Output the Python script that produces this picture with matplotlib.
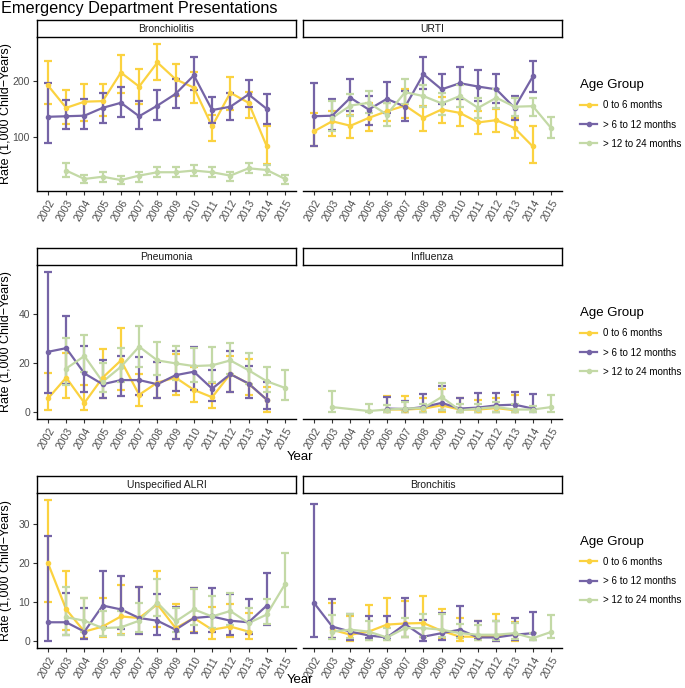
import numpy as np
import matplotlib

matplotlib.use("Agg")
import matplotlib.pyplot as plt
from matplotlib.lines import Line2D

plt.rcParams["font.family"] = ["Liberation Sans", "DejaVu Sans"]

nan = np.nan

YEARS = ["2002", "2003", "2004", "2005", "2006", "2007", "2008",
         "2009", "2010", "2011", "2012", "2013", "2014", "2015"]
AGE_GROUPS = ["0 to 6 months", "> 6 to 12 months", "> 12 to 24 months"]
COLORS = ["#FBD240", "#7564A6", "#C3D9A6"]

# --- Bronchiolitis
BRONCHIOLITIS_06 = [192, 152, 163, 164, 215, 190, 233, 203, 188, 119, 179, 161, 83, nan]
BRONCHIOLITIS_06_LO = [158, 124, 128, 137, 179, 158, 201, 173, 160, 93, 149, 134, 51, nan]
BRONCHIOLITIS_06_HI = [236, 183, 195, 195, 247, 221, 266, 230, 216, 140, 207, 180, 120, nan]
BRONCHIOLITIS_612 = [136, 137, 138, 152, 161, 137, 156, 177, 210, 148, 154, 176, 150, nan]
BRONCHIOLITIS_612_LO = [89, 114, 114, 125, 135, 114, 131, 151, 184, 125, 130, 154, 124, nan]
BRONCHIOLITIS_612_HI = [197, 166, 167, 178, 189, 164, 184, 204, 242, 172, 178, 202, 176, nan]
BRONCHIOLITIS_1224 = [nan, 40, 25, 29, 23, 31, 37, 37, 40, 37, 31, 44, 41, 25]
BRONCHIOLITIS_1224_LO = [nan, 28, 17, 20, 16, 20, 28, 28, 31, 28, 22, 35, 32, 16]
BRONCHIOLITIS_1224_HI = [nan, 54, 32, 37, 31, 38, 46, 46, 50, 46, 38, 53, 50, 32]

# --- URTI
URTI_06 = [110, 128, 120, 134, 146, 156, 134, 149, 143, 126, 130, 116, 83, nan]
URTI_06_LO = [84, 102, 98, 110, 128, 134, 111, 125, 119, 105, 108, 98, 53, nan]
URTI_06_HI = [142, 146, 140, 161, 161, 185, 156, 171, 167, 147, 150, 134, 119, nan]
URTI_612 = [137, 138, 170, 149, 168, 154, 212, 185, 196, 190, 185, 152, 208, nan]
URTI_612_LO = [84, 113, 146, 122, 143, 128, 185, 158, 168, 164, 160, 131, 180, nan]
URTI_612_HI = [197, 167, 203, 173, 198, 182, 242, 212, 225, 219, 212, 174, 236, nan]
URTI_1224 = [nan, 134, 156, 161, 140, 180, 173, 160, 173, 152, 170, 154, 155, 116]
URTI_1224_LO = [nan, 111, 137, 143, 120, 158, 154, 140, 154, 134, 152, 138, 138, 98]
URTI_1224_HI = [nan, 164, 176, 182, 161, 203, 192, 179, 192, 170, 185, 170, 170, 136]

# --- Pneumonia
PNEUMONIA_06 = [5.5, 14, 3.7, 14, 21, 7, 12, 14, 9, 6, 15.5, 11.5, 5, nan]
PNEUMONIA_06_LO = [0.7, 5.5, 0.7, 5.5, 9, 2.3, 5.5, 7, 4, 1.6, 8, 7, 0, nan]
PNEUMONIA_06_HI = [16, 24, 11, 25.5, 34, 15.5, 20.5, 23.5, 18.5, 12, 23, 21.5, 10, nan]
PNEUMONIA_612 = [24.5, 26, 15.7, 11.3, 13, 13, 11.3, 15, 16.4, 9.5, 15.4, 11.6, 5, nan]
PNEUMONIA_612_LO = [7.8, 11.6, 8, 5.5, 6.4, 6.8, 5.5, 8.5, 9, 4.5, 8.2, 5.9, 1.4, nan]
PNEUMONIA_612_HI = [57, 39, 27, 21, 23, 22.5, 20.5, 25, 26.6, 17.3, 25, 18.7, 12.3, nan]
PNEUMONIA_1224 = [nan, 17.7, 22.8, 12.3, 18.4, 26.6, 21, 19.8, 18.7, 19, 21, 17, 12.5, 9.8]
PNEUMONIA_1224_LO = [nan, 11, 16.4, 8.2, 12.3, 18.4, 15, 13.2, 12.3, 12.3, 15.4, 11.6, 8.2, 5]
PNEUMONIA_1224_HI = [nan, 30, 31.4, 19.8, 26, 35, 28.6, 27, 26, 26.6, 28, 24, 18.4, 17]

# --- Influenza
INFLUENZA_06 = [nan, nan, nan, nan, 1, 1, 1.4, 2.7, 1, 1, 1.6, 0.7, nan, nan]
INFLUENZA_06_LO = [nan, nan, nan, nan, 0, 0, 0, 0, 0, 0, 0, 0, nan, nan]
INFLUENZA_06_HI = [nan, nan, nan, nan, 6.7, 6.7, 5.9, 9.5, 5.5, 4.8, 5.5, 6.8, nan, nan]
INFLUENZA_612 = [nan, nan, nan, nan, 1.4, 1.2, 2, 3.7, 1.4, 1.8, 2.7, 3, 1.4, nan]
INFLUENZA_612_LO = [nan, nan, nan, nan, 0, 0, 0, 0.7, 0, 0, 0, 0, 0, nan]
INFLUENZA_612_HI = [nan, nan, nan, nan, 6.1, 4.5, 7.2, 10.5, 5.9, 7.8, 7.8, 8.2, 7.5, nan]
INFLUENZA_1224 = [nan, 2, nan, 0.4, 1, 1.4, 1.6, 6.1, 0.7, 1.4, 2, 1, 1, 2]
INFLUENZA_1224_LO = [nan, 0, nan, 0, 0, 0, 0, 0.7, 0, 0, 0, 0, 0, 0]
INFLUENZA_1224_HI = [nan, 8.5, nan, 3.1, 3, 4.1, 3.4, 11.9, 3.4, 3.4, 4.1, 3.4, 2.3, 6.8]

# --- Unspecified ALRI
ALRI_06 = [20, 8.1, 2.4, 3.7, 6.3, 5.9, 9.4, 3.3, 5.9, 2.9, 3.7, 2.4, nan, nan]
ALRI_06_LO = [10, 2.9, 0.7, 0.9, 1.7, 1.7, 3.7, 0.4, 2.4, 0.4, 1.1, 0.4, nan, nan]
ALRI_06_HI = [36.2, 18, 11.1, 11.1, 14.4, 13.9, 17.9, 9.6, 13.7, 8.7, 9.6, 7.2, nan, nan]
ALRI_612 = [4.8, 4.8, 2.4, 9.1, 8.1, 5.9, 5.2, 2.9, 5.9, 6.3, 5.2, 4.8, 9.1, nan]
ALRI_612_LO = [0, 1.6, 0.4, 3.7, 3.1, 1.7, 1.6, 0.5, 2, 2.4, 1.6, 1.7, 4.2, nan]
ALRI_612_HI = [27, 12.4, 8.5, 18, 16.8, 13.9, 12, 8.7, 13.7, 13.5, 12, 10.7, 17.4, nan]
ALRI_1224 = [nan, 6.1, 5.2, 3.3, 3.5, 5.2, 9.8, 5, 8.1, 6.3, 7.7, 4.6, 6.8, 14.6]
ALRI_1224_LO = [nan, 1.6, 2.3, 1.4, 1.6, 2.3, 6.3, 2.3, 4.2, 3.3, 4.2, 2.3, 4.3, 8.7]
ALRI_1224_HI = [nan, 13.9, 11.1, 7.7, 7.7, 9.8, 15.9, 8.5, 13.3, 11.6, 12.4, 8.5, 10.7, 22.6]

# --- Bronchitis
BRONCHITIS_06 = [nan, 2.9, 1.6, 2.4, 4.2, 4.5, 4.6, 2.6, 1.1, 1.1, 1.4, 1.6, nan, nan]
BRONCHITIS_06_LO = [nan, 0.7, 0, 0.3, 0.3, 1.1, 1.1, 0.5, 0, 0.3, 0, 0, nan, nan]
BRONCHITIS_06_HI = [nan, 9.8, 6.3, 9.2, 11, 10.3, 11.6, 8.1, 5.9, 5, 6.8, 4.9, nan, nan]
BRONCHITIS_612 = [9.8, 3.7, 2.4, 1.4, 0.9, 4.3, 1.1, 2, 2.9, 0.9, 0.9, 1.6, 2, nan]
BRONCHITIS_612_LO = [1.1, 0.7, 0.3, 0.7, 0.5, 0.9, 0, 0.3, 0.9, 0.5, 0, 0.3, 0.3, nan]
BRONCHITIS_612_HI = [35.2, 10.7, 6.8, 6.3, 6.5, 11, 5.5, 7.2, 9, 5, 5, 5.9, 7.5, nan]
BRONCHITIS_1224 = [nan, 2.4, 2.9, 2.4, 0.9, 3.3, 3.3, 2.9, 2, 1.6, 1.6, 2, 0.7, 2.3]
BRONCHITIS_1224_LO = [nan, 0.5, 0.7, 0.3, 0.3, 1.1, 1.1, 1.1, 0.7, 0.3, 0.3, 0.4, 0.3, 0.7]
BRONCHITIS_1224_HI = [nan, 6.6, 7, 5.2, 3.3, 5.9, 6.8, 6.8, 4.3, 4.2, 5, 4.6, 2, 6.6]

ROWS = [
    {
        "panels": [
            ("Bronchiolitis", [
                (BRONCHIOLITIS_06, BRONCHIOLITIS_06_LO, BRONCHIOLITIS_06_HI),
                (BRONCHIOLITIS_612, BRONCHIOLITIS_612_LO, BRONCHIOLITIS_612_HI),
                (BRONCHIOLITIS_1224, BRONCHIOLITIS_1224_LO, BRONCHIOLITIS_1224_HI)]),
            ("URTI", [
                (URTI_06, URTI_06_LO, URTI_06_HI),
                (URTI_612, URTI_612_LO, URTI_612_HI),
                (URTI_1224, URTI_1224_LO, URTI_1224_HI)]),
        ],
        "yticks": [100, 200],
        "top": 37, "bottom": 191, "xlabel": None,
    },
    {
        "panels": [
            ("Pneumonia", [
                (PNEUMONIA_06, PNEUMONIA_06_LO, PNEUMONIA_06_HI),
                (PNEUMONIA_612, PNEUMONIA_612_LO, PNEUMONIA_612_HI),
                (PNEUMONIA_1224, PNEUMONIA_1224_LO, PNEUMONIA_1224_HI)]),
            ("Influenza", [
                (INFLUENZA_06, INFLUENZA_06_LO, INFLUENZA_06_HI),
                (INFLUENZA_612, INFLUENZA_612_LO, INFLUENZA_612_HI),
                (INFLUENZA_1224, INFLUENZA_1224_LO, INFLUENZA_1224_HI)]),
        ],
        "yticks": [0, 20, 40],
        "top": 265, "bottom": 419, "xlabel": 457,
    },
    {
        "panels": [
            ("Unspecified ALRI", [
                (ALRI_06, ALRI_06_LO, ALRI_06_HI),
                (ALRI_612, ALRI_612_LO, ALRI_612_HI),
                (ALRI_1224, ALRI_1224_LO, ALRI_1224_HI)]),
            ("Bronchitis", [
                (BRONCHITIS_06, BRONCHITIS_06_LO, BRONCHITIS_06_HI),
                (BRONCHITIS_612, BRONCHITIS_612_LO, BRONCHITIS_612_HI),
                (BRONCHITIS_1224, BRONCHITIS_1224_LO, BRONCHITIS_1224_HI)]),
        ],
        "yticks": [0, 10, 20, 30],
        "top": 493, "bottom": 648, "xlabel": 680,
    },
]

W, H = 685, 688
PANEL_X = [(37, 296), (303, 562)]
STRIP_H = 17
TEXT_GREY = "#4D4D4D"


def _rect(x0, y0, x1, y1):
    """Pixel box (top-left origin) -> figure fraction rect."""
    return [x0 / W, 1 - y1 / H, (x1 - x0) / W, (y1 - y0) / H]


def _row_ylim(panels):
    # shared y per row, ggplot-style 5% expansion
    lows, highs = [], []
    for _, series in panels:
        for _, lo, hi in series:
            lows.append(np.nanmin(lo))
            highs.append(np.nanmax(hi))
    lo, hi = min(lows), max(highs)
    pad = 0.05 * (hi - lo)
    return lo - pad, hi + pad


def _draw_panel(ax, series):
    x = np.arange(len(YEARS))
    for (mean, lo, hi), color in zip(series, COLORS):
        m = np.asarray(mean, float)
        l = np.asarray(lo, float)
        h = np.asarray(hi, float)
        ok = ~np.isnan(m)
        ax.plot(x[ok], m[ok], color=color, lw=1.6, solid_capstyle="butt")
        ax.errorbar(x[ok], m[ok], yerr=[m[ok] - l[ok], h[ok] - m[ok]],
                    fmt="o", ms=3, color=color, ecolor=color,
                    elinewidth=1.6, capsize=3.2, capthick=1.6)


def main():
    fig = plt.figure(figsize=(W / 100, H / 100), dpi=100)
    fig.text(1 / W, 1 - 1 / H, "Emergency Department Presentations",
             ha="left", va="top", fontsize=11.7, color="black")

    for row in ROWS:
        ylim = _row_ylim(row["panels"])
        top, bottom = row["top"], row["bottom"]
        for i, (title, series) in enumerate(row["panels"]):
            x0, x1 = PANEL_X[i]
            ax = fig.add_axes(_rect(x0, top, x1, bottom))
            _draw_panel(ax, series)
            ax.set_xlim(-0.6, len(YEARS) - 0.4)
            ax.set_ylim(*ylim)
            ax.set_xticks(np.arange(len(YEARS)))
            ax.set_xticklabels(YEARS, rotation=60, ha="right", va="top",
                               rotation_mode="anchor", fontsize=7.5, color=TEXT_GREY)
            ax.set_yticks(row["yticks"])
            for s in ("top", "right"):
                ax.spines[s].set_visible(False)
            ax.spines["bottom"].set_linewidth(1.0)
            ax.spines["left"].set_linewidth(1.0)
            ax.tick_params(length=3, width=0.8, color="#333333", pad=2)
            if i == 0:
                ax.tick_params(axis="y", labelsize=7.5, labelcolor=TEXT_GREY)
            else:
                ax.spines["left"].set_visible(False)
                ax.tick_params(axis="y", left=False, labelleft=False)

            # facet strip
            sax = fig.add_axes(_rect(x0, top - STRIP_H, x1, top))
            sax.set_xticks([])
            sax.set_yticks([])
            for sp in sax.spines.values():
                sp.set_linewidth(1.0)
                sp.set_color("black")
            sax.text(0.5, 0.5, title, ha="center", va="center",
                     fontsize=7.5, color="#1A1A1A", transform=sax.transAxes)

        mid = (top + bottom) / 2
        fig.text(6.5 / W, 1 - mid / H, "Rate (1,000 Child\u2212Years)", rotation=90,
                 ha="center", va="center", fontsize=9)
        if row["xlabel"]:
            fig.text(300 / W, 1 - row["xlabel"] / H, "Year", ha="center",
                     va="center", fontsize=9.5)

        handles = [Line2D([0], [0], color=c, lw=1.6, marker="o", ms=3)
                   for c in COLORS]
        leg = fig.legend(handles, AGE_GROUPS, title="Age Group",
                         loc="center left", bbox_to_anchor=(571 / W, 1 - mid / H),
                         frameon=False, fontsize=7, title_fontsize=9.5,
                         handlelength=1.8, handletextpad=0.6, labelspacing=0.95)
        leg._legend_box.align = "left"

    fig.savefig("out.png", dpi=100)
    plt.close(fig)


if __name__ == "__main__":
    main()
